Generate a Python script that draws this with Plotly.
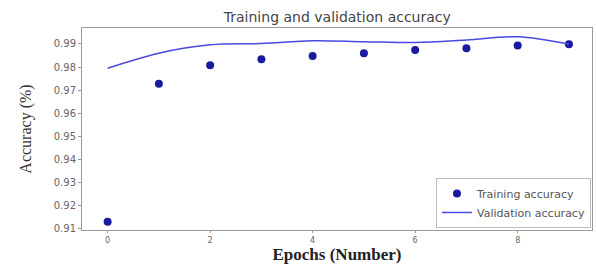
import plotly.graph_objects as go

epochs = [0, 1, 2, 3, 4, 5, 6, 7, 8, 9]
train_acc = [0.9131, 0.9728, 0.9808, 0.9834, 0.9848, 0.9860, 0.9874, 0.9881, 0.9893, 0.9899]
val_acc = [0.9795, 0.9860, 0.9896, 0.9902, 0.9914, 0.9910, 0.9906, 0.9917, 0.9931, 0.9899]
y_ticks = [0.91, 0.92, 0.93, 0.94, 0.95, 0.96, 0.97, 0.98, 0.99]
x_ticks = [0, 2, 4, 6, 8]

fig = go.Figure()
fig.add_trace(go.Scatter(x=epochs, y=train_acc, mode="markers", name="Training accuracy",
                         marker=dict(color="#1a1aa0", size=8)))
fig.add_trace(go.Scatter(x=epochs, y=val_acc, mode="lines", name="Validation accuracy",
                         line=dict(color="#4a4ae0", width=1.5, shape="spline")))

fig.update_layout(
    width=597, height=264,
    margin=dict(l=82, r=5, t=28, b=34, autoexpand=False),
    paper_bgcolor="white", plot_bgcolor="white",
    title=dict(text="Training and validation accuracy", x=0.565, xanchor="center", y=0.935, yanchor="middle",
               font=dict(family="DejaVu Sans", size=14, color="#444")),
    xaxis=dict(range=[-0.5, 9.45], tickvals=x_ticks, showgrid=False, zeroline=False, automargin=False,
               showline=True, linecolor="#999", mirror=True, ticks="outside", ticklen=2,
               tickcolor="#999", tickfont=dict(family="DejaVu Sans", size=8, color="#666"),
               title=dict(text="<b>Epochs (Number)</b>", standoff=5,
                          font=dict(family="Liberation Serif", size=17, color="#222"))),
    yaxis=dict(range=[0.9095, 0.9969], tickvals=y_ticks, tickformat=".2f", showgrid=False, zeroline=False,
               automargin=False,
               showline=True, linecolor="#999", mirror=True, ticks="outside", ticklen=3,
               tickcolor="#999", tickfont=dict(family="DejaVu Sans", size=10, color="#666"),
               title=dict(text="Accuracy (%)", standoff=18,
                          font=dict(family="Liberation Serif", size=16, color="#333"))),
    legend=dict(x=0.998, y=0.01, xanchor="right", yanchor="bottom", bordercolor="#bbb", borderwidth=1,
                bgcolor="white", font=dict(family="DejaVu Sans", size=11, color="#555"),
                tracegroupgap=0, itemwidth=30),
    showlegend=True,
)

fig.write_html("out.html", config={"displayModeBar": False},
               post_script="document.body.style.margin='0';document.body.style.overflow='hidden';")
